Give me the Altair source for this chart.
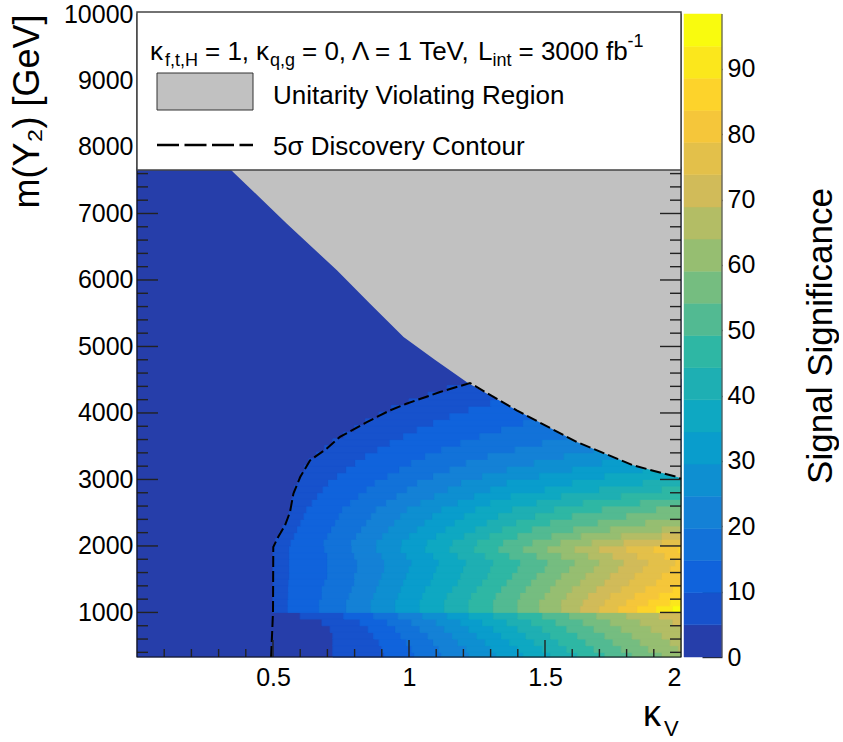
import altair as alt
import pandas as pd

# ---------------- data ----------------
# colour levels (20 contours between 0 and the maximum 98.4)
level_edges = [0, 4.92, 9.84, 14.76, 19.68, 24.6, 29.52, 34.44, 39.36, 44.28, 49.2,
               54.12, 59.04, 63.96, 68.88, 73.8, 78.72, 83.64, 88.56, 93.48, 98.4]
level_colors = ["#263eaa", "#1752cc", "#1063dc", "#1272d9", "#1481d6", "#0e8fd1",
                "#099dcc", "#0ea8c2", "#1eafb3", "#2eb7a4", "#52ba92", "#75bd80",
                "#96be71", "#b3bd65", "#d1bb59", "#e3c04a", "#f5c63a", "#fdd32b",
                "#fbe71c", "#f9fb0e"]

# mass rows (GeV) and, for each row, the kappa_V at which the significance
# crosses each successive colour level
row_mass_lo = [330, 400, 500, 600, 700, 800, 900,
               1000, 1100, 1200, 1300, 1400, 1500, 1600, 1700, 1800, 1900,
               2000, 2100, 2200, 2300, 2400, 2500, 2600, 2700, 2800, 2900,
               3000, 3100, 3200, 3300, 3400, 3500, 3600, 3700, 3800, 3900,
               4000, 4100, 4200, 4300, 4400, 4500]
row_mass_hi = row_mass_lo[1:] + [7700]
row_crossings = [
    # below 1000 GeV
    [0.72, 0.91, 1.02, 1.12, 1.22, 1.32, 1.42, 1.52, 1.62, 1.72, 1.82, 1.93],
    [0.72, 0.90, 1.01, 1.11, 1.21, 1.30, 1.40, 1.49, 1.58, 1.68, 1.78, 1.88, 1.99],
    [0.72, 0.89, 0.99, 1.09, 1.18, 1.28, 1.37, 1.46, 1.55, 1.65, 1.75, 1.85, 1.96],
    [0.72, 0.87, 0.97, 1.07, 1.16, 1.25, 1.34, 1.43, 1.52, 1.62, 1.72, 1.82, 1.93],
    [0.71, 0.85, 0.95, 1.04, 1.13, 1.22, 1.31, 1.40, 1.49, 1.58, 1.68, 1.78, 1.89, 2.00],
    [0.68, 0.82, 0.92, 1.01, 1.10, 1.19, 1.27, 1.36, 1.45, 1.54, 1.64, 1.74, 1.85, 1.97],
    [0.60, 0.76, 0.87, 0.96, 1.05, 1.14, 1.22, 1.31, 1.40, 1.49, 1.59, 1.69, 1.80, 1.92],
    # 1000 - 2000 GeV
    [0.50, 0.555, 0.67, 0.77, 0.86, 0.95, 1.04, 1.13, 1.22, 1.31, 1.40, 1.48, 1.56, 1.63,
     1.70, 1.77, 1.84, 1.91, 1.97],
    [0.50, 0.555, 0.67, 0.77, 0.86, 0.95, 1.04, 1.13, 1.22, 1.31, 1.40, 1.48, 1.56, 1.64,
     1.72, 1.80, 1.88, 1.96],
    [0.50, 0.556, 0.68, 0.78, 0.87, 0.96, 1.05, 1.14, 1.23, 1.32, 1.41, 1.50, 1.58, 1.66,
     1.74, 1.83, 1.92],
    [0.50, 0.557, 0.68, 0.79, 0.88, 0.97, 1.06, 1.16, 1.25, 1.34, 1.43, 1.52, 1.60, 1.69,
     1.78, 1.87, 1.97],
    [0.50, 0.558, 0.69, 0.80, 0.89, 0.98, 1.08, 1.18, 1.27, 1.36, 1.45, 1.54, 1.63, 1.72,
     1.81, 1.91],
    [0.50, 0.56, 0.70, 0.80, 0.90, 0.99, 1.09, 1.19, 1.29, 1.38, 1.47, 1.56, 1.65, 1.74,
     1.83, 1.93],
    [0.50, 0.56, 0.70, 0.81, 0.91, 1.00, 1.10, 1.20, 1.30, 1.40, 1.50, 1.59, 1.68, 1.77,
     1.86, 1.96],
    [0.50, 0.56, 0.70, 0.81, 0.91, 1.01, 1.11, 1.21, 1.31, 1.41, 1.51, 1.61, 1.70, 1.79,
     1.88, 1.98],
    [0.50, 0.56, 0.70, 0.80, 0.90, 0.99, 1.09, 1.18, 1.28, 1.37, 1.47, 1.56, 1.66, 1.75,
     1.84, 1.94],
    [0.50, 0.56, 0.69, 0.79, 0.88, 0.97, 1.06, 1.15, 1.24, 1.33, 1.42, 1.51, 1.61, 1.70,
     1.80, 1.90, 1.99],
    # 2000 - 3000 GeV
    [0.51, 0.566, 0.687, 0.789, 0.881, 0.974, 1.067, 1.161, 1.252, 1.347, 1.455, 1.558,
     1.673, 1.79, 1.93],
    [0.523, 0.578, 0.701, 0.807, 0.903, 1.002, 1.101, 1.203, 1.297, 1.40, 1.525, 1.633,
     1.78, 1.93],
    [0.536, 0.59, 0.715, 0.825, 0.925, 1.03, 1.135, 1.245, 1.343, 1.453, 1.605, 1.74, 1.93],
    [0.549, 0.602, 0.729, 0.843, 0.947, 1.058, 1.169, 1.287, 1.395, 1.52, 1.695, 1.87],
    [0.559, 0.614, 0.743, 0.861, 0.969, 1.086, 1.203, 1.329, 1.465, 1.60, 1.80],
    [0.565, 0.624, 0.755, 0.879, 0.993, 1.12, 1.245, 1.38, 1.535, 1.71, 1.91],
    [0.569, 0.644, 0.785, 0.917, 1.043, 1.18, 1.30, 1.47, 1.64, 1.85],
    [0.573, 0.664, 0.815, 0.955, 1.093, 1.24, 1.375, 1.56, 1.78],
    [0.58, 0.684, 0.845, 0.993, 1.143, 1.30, 1.50, 1.70, 1.93],
    [0.592, 0.704, 0.875, 1.031, 1.193, 1.36, 1.60, 1.86],
    # 3000 - 4500 GeV
    [0.602, 0.737, 0.922, 1.09, 1.27, 1.48, 1.72],
    [0.616, 0.77, 0.965, 1.15, 1.36, 1.60, 1.86],
    [0.632, 0.803, 1.008, 1.21, 1.46, 1.71],
    [0.66, 0.84, 1.06, 1.29, 1.57],
    [0.69, 0.885, 1.12, 1.39, 1.68],
    [0.72, 0.93, 1.19, 1.49],
    [0.76, 0.98, 1.26, 1.58],
    [0.80, 1.03, 1.34],
    [0.84, 1.09, 1.42],
    [0.89, 1.15, 1.50],
    [0.935, 1.22],
    [1.00, 1.30],
    [1.07, 1.38],
    [1.14],
    [1.21],
    [],
]

# unitarity boundary (grey region to the right of it)
unit_mass = [3000, 3032, 3212, 3563, 4039, 4450, 4800, 5141, 5650, 6145, 6847, 7618, 7700]
unit_kappa = [2.0, 1.99, 1.824, 1.617, 1.396, 1.217, 1.095, 0.98, 0.855, 0.735, 0.551, 0.355, 0.335]

# 5 sigma discovery contour
contour_kappa = [0.493, 0.50, 0.501, 0.519, 0.544, 0.5625, 0.575, 0.60, 0.636, 0.697, 0.746,
                 0.845, 0.93, 0.99, 1.114, 1.224, 1.396, 1.617, 1.824, 1.99, 2.0]
contour_mass = [330, 1000, 1984, 2134, 2310, 2510, 2787, 3036, 3287, 3463, 3640,
                3863, 4039, 4139, 4315, 4450, 4039, 3563, 3212, 3032, 3010]

x_tick_labels = [0.5, 1, 1.5, 2]
y_tick_labels = [1000, 2000, 3000, 4000, 5000, 6000, 7000, 8000, 9000, 10000]
z_tick_labels = [0, 10, 20, 30, 40, 50, 60, 70, 80, 90]

# ---------------- tables ----------------
# lowest level fills the whole map; higher levels are drawn row by row on top
base_df = pd.DataFrame({"k0": [0.0], "k1": [2.0], "m0": [row_mass_lo[0]], "m1": [row_mass_hi[-1]],
                        "col": [level_colors[0]]})
recs = []
for lo, hi, cr in zip(row_mass_lo, row_mass_hi, row_crossings):
    edges = [0.0] + cr + [2.0]
    for j in range(1, len(edges) - 1):
        recs.append(dict(k0=edges[j], k1=edges[j + 1], m0=lo, m1=hi + 12, col=level_colors[j]))
heat_df = pd.DataFrame(recs)

unit_df = pd.DataFrame({"m": unit_mass, "k": unit_kappa, "kmax": [2.0] * len(unit_mass)})
cont_df = pd.DataFrame({"k": contour_kappa, "m": contour_mass, "i": list(range(len(contour_kappa)))})

y_major = [v for v in y_tick_labels if v < 10000]
y_minor = [v for v in range(400, 10000, 200) if v % 1000 != 0]
x_major = [0.5, 1.0, 1.5]
x_minor = [v / 10 for v in range(1, 20) if v % 5 != 0]

cbar_df = pd.DataFrame({"z0": level_edges[:-1], "z1": level_edges[1:], "col": level_colors})

# ---------------- chart ----------------
W, H = 544, 643
FONT = "Liberation Sans"
xs = alt.Scale(domain=[0, 2], nice=False, zero=False)
ys = alt.Scale(domain=[330, 10000], nice=False, zero=False)
one = pd.DataFrame({"a": [0]})

x_axis = alt.Axis(values=x_tick_labels, format="~g", ticks=False, domain=False, grid=False,
                  labelFontSize=25, labelPadding=8, title=None)
y_axis = alt.Axis(values=y_tick_labels, format="d", ticks=False, domain=False, grid=False,
                  labelFontSize=25, labelPadding=4, title="m(Y₂) [GeV]", titleFontSize=36,
                  titleAnchor="end", titlePadding=17, titleFontWeight="normal")


def heat_layer(df):
    return alt.Chart(df).mark_rect(strokeWidth=0.8).encode(
        x=alt.X("k0:Q", scale=xs, axis=x_axis),
        x2="k1:Q",
        y=alt.Y("m0:Q", scale=ys, axis=y_axis),
        y2="m1:Q",
        color=alt.Color("col:N", scale=None),
        stroke=alt.Stroke("col:N", scale=None),
    )


base = heat_layer(base_df)
heat = heat_layer(heat_df)

grey = alt.Chart(unit_df).mark_area(orient="horizontal", color="#c1c1c1", opacity=1).encode(
    y=alt.Y("m:Q", scale=ys, axis=y_axis),
    x=alt.X("k:Q", scale=xs, axis=x_axis),
    x2="kmax:Q",
)

contour = alt.Chart(cont_df).mark_line(color="black", strokeDash=[11, 4], strokeWidth=2).encode(
    x=alt.X("k:Q", scale=xs, axis=x_axis),
    y=alt.Y("m:Q", scale=ys, axis=y_axis),
    order="i:Q",
)

TICK = "#222222"


def yticks(vals, x0, x1):
    return alt.Chart(pd.DataFrame({"v": vals})).mark_rule(color=TICK, strokeWidth=1.4).encode(
        y=alt.Y("v:Q", scale=ys, axis=y_axis), x=alt.value(x0), x2=alt.value(x1))


def xticks(vals, length):
    return alt.Chart(pd.DataFrame({"v": vals})).mark_rule(color=TICK, strokeWidth=1.4).encode(
        x=alt.X("v:Q", scale=xs, axis=x_axis), y=alt.value(H), y2=alt.value(H - length))


ticks = [yticks(y_major, 0, 21), yticks(y_minor, 0, 11),
         yticks(y_major, W, W - 21), yticks(y_minor, W, W - 11),
         xticks(x_major, 17), xticks(x_minor, 8)]

frame = alt.Chart(one).mark_rect(fill=None, stroke="#111111", strokeWidth=1.2).encode(
    x=alt.value(0), x2=alt.value(W), y=alt.value(0), y2=alt.value(H))

legend_box = alt.Chart(one).mark_rect(fill="white", stroke="#444444", strokeWidth=1.5).encode(
    x=alt.value(0), x2=alt.value(W), y=alt.value(-2), y2=alt.value(156))
swatch = alt.Chart(one).mark_rect(fill="#c1c1c1", stroke="#333333", strokeWidth=1).encode(
    x=alt.value(20), x2=alt.value(116), y=alt.value(59), y2=alt.value(96))
leg_line = alt.Chart(one).mark_rule(color="black", strokeWidth=2.5, strokeDash=[22, 5.5]).encode(
    x=alt.value(20), x2=alt.value(116), y=alt.value(131))


def txt(s, x, y, size, baseline="alphabetic", angle=0):
    return alt.Chart(one).mark_text(text=s, font=FONT, fontSize=size, align="left",
                                    baseline=baseline, color="black", angle=angle).encode(
        x=alt.value(x), y=alt.value(y))


header = [
    txt("κ", 13, 46, 26), txt("f,t,H", 28, 52, 18),
    txt("= 1,", 68, 46, 26),
    txt("κ", 119, 46, 26), txt("q,g", 133, 52, 18),
    txt("= 0, Λ = 1 TeV,", 165, 46, 26),
    txt("L", 341, 46, 26), txt("int", 355.5, 52, 18),
    txt("= 3000 fb", 381.5, 46, 26), txt("-1", 490.5, 33, 18),
]
entries = [txt("Unitarity Violating Region", 136, 82, 26, "middle"),
           txt("5σ Discovery Contour", 136, 133, 26, "middle")]
xtitle = [txt("κ", 506, 712, 36), txt("V", 527, 722, 22)]

main = alt.layer(base, heat, grey, contour, *ticks, frame, legend_box, swatch, leg_line,
                 *header, *entries, *xtitle).properties(width=W, height=H)

cbar_rect = alt.Chart(cbar_df).mark_rect(strokeWidth=0.5).encode(
    y=alt.Y("z0:Q", scale=alt.Scale(domain=[0, 98.4], nice=False, zero=False),
            axis=alt.Axis(orient="right", values=z_tick_labels, offset=-20, tickSize=20,
                          ticks=True, tickColor=TICK, tickWidth=1.4, domain=False, grid=False,
                          labelPadding=5, labelFontSize=25, title="Signal Significance",
                          titleFontSize=35, titleAngle=270, titlePadding=84,
                          titleFontWeight="normal")),
    y2="z1:Q",
    x=alt.value(0), x2=alt.value(38),
    color=alt.Color("col:N", scale=None),
    stroke=alt.Stroke("col:N", scale=None),
)
cbar_edge = alt.Chart(one).mark_rule(color="#555555", strokeWidth=1.2).encode(
    x=alt.value(38), y=alt.value(0), y2=alt.value(H))
cbar = alt.layer(cbar_rect, cbar_edge).properties(width=38, height=H)

chart = alt.hconcat(main, cbar, spacing=3, bounds="flush").properties(
    padding={"left": 9, "top": 2, "right": 0, "bottom": 0}
).configure_view(stroke=None).configure_axis(
    labelFont=FONT, titleFont=FONT, labelColor="black", titleColor="black"
)

chart.save("out.html", embed_options={"renderer": "svg", "actions": False})
